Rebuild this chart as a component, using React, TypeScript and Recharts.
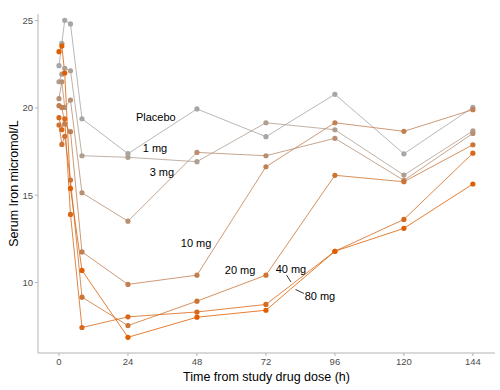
import React from 'react';
import { LineChart, Line, XAxis, YAxis, ReferenceDot, ReferenceLine } from 'recharts';

const times = [0, 1, 2, 4, 8, 24, 48, 72, 96, 120, 144];
const placebo = [22.42, 23.7, 25.02, 24.81, 19.38, 17.38, 19.94, 18.35, 20.78, 17.37, 20.03];
const mg1 = [21.5, 21.93, 22.27, 22.13, 17.26, 17.17, 16.92, 19.15, 18.75, 16.15, 18.68];
const mg3 = [20.53, 21.5, 20.03, 20.45, 15.14, 13.51, 17.45, 17.26, 18.26, 15.85, 18.54];
const mg10 = [20.13, 20.03, 19.08, 18.64, 11.75, 9.89, 10.42, 16.63, 19.15, 18.66, 19.9];
const mg20 = [19.02, 17.91, 18.37, 15.87, 9.16, 7.53, 8.93, 10.42, 16.14, 15.77, 17.89];
const mg40 = [19.44, 18.75, 19.38, 13.9, 7.42, 8.03, 8.31, 8.74, 11.79, 13.61, 17.41];
const mg80 = [23.22, 23.55, 22.0, 15.39, 10.69, 6.86, 8.01, 8.41, 11.79, 13.1, 15.64];

const seriesNames = ['Placebo', '1 mg', '3 mg', '10 mg', '20 mg', '40 mg', '80 mg'];
const seriesValues = [placebo, mg1, mg3, mg10, mg20, mg40, mg80];
const seriesColors = ['#a6a6a6', '#ae9f91', '#b88f72', '#c27f52', '#cc7434', '#d8681a', '#e05e00'];

const xTicks = [0, 24, 48, 72, 96, 120, 144];
const yTicks = [10, 15, 20, 25];

// annotation labels (data coordinates)
const labelNames = ['Placebo', '1 mg', '3 mg', '10 mg', '20 mg', '40 mg', '80 mg'];
const labelX = [33.7, 33.4, 35.8, 47.7, 63.0, 80.7, 90.8];
const labelY = [19.48, 17.7, 16.32, 12.25, 10.7, 10.76, 9.2];
const leaders = [
  [{ x: 79.2, y: 10.42 }, { x: 80.7, y: 10.03 }],
  [{ x: 82.3, y: 9.6 }, { x: 85.2, y: 9.37 }],
];

const data = times.map((t, i) => {
  const row: Record<string, number> = { time: t };
  seriesNames.forEach((n, k) => {
    row[n] = seriesValues[k][i];
  });
  return row;
});

const FONT = '"Liberation Sans", Arial, Helvetica, sans-serif';

const YTitle = (props: any) => {
  const vb = props.viewBox || {};
  const cx = (vb.x || 0) + 14;
  const cy = (vb.y || 0) + (vb.height || 0) / 2;
  return (
    <text x={cx} y={cy} transform={`rotate(-90 ${cx} ${cy})`} textAnchor="middle" dominantBaseline="central"
      fontSize={12.5} fill="#000" fontFamily={FONT}>
      Serum Iron micromol/L
    </text>
  );
};

const XTitle = (props: any) => {
  const vb = props.viewBox || {};
  const cx = (vb.x || 0) + (vb.width || 0) / 2;
  const cy = (vb.y || 0) + 27.5;
  return (
    <text x={cx} y={cy} textAnchor="middle" fontSize={12.5} fill="#000" fontFamily={FONT}>
      Time from study drug dose (h)
    </text>
  );
};

export default function App() {
  return (
    <div style={{ position: 'absolute', left: 0, top: 0, width: 500, height: 390, background: '#fff' }}>
      <LineChart width={500} height={390} data={data} margin={{ top: 14, right: 5, bottom: 0, left: 0 }}
        style={{ fontFamily: FONT }}>
        <XAxis dataKey="time" type="number" domain={[-7.3, 151.7]} ticks={xTicks} allowDataOverflow
          height={37} stroke="#b3b3b3" tickSize={3} tickMargin={2}
          tick={{ fontSize: 9.5, fill: '#4d4d4d', fontFamily: FONT }} label={<XTitle />} />
        <YAxis type="number" domain={[5.96, 25.38]} ticks={yTicks} allowDataOverflow width={38}
          stroke="#b3b3b3" tickSize={3} tickMargin={2}
          tick={{ fontSize: 9.5, fill: '#4d4d4d', fontFamily: FONT }} label={<YTitle />} />
        {seriesNames.map((n, k) => (
          <Line key={n} dataKey={n} type="linear" stroke={seriesColors[k]} strokeOpacity={0.8} strokeWidth={1}
            dot={{ r: 2.6, fill: seriesColors[k], stroke: 'none', fillOpacity: 1 }} activeDot={false}
            isAnimationActive={false} />
        ))}
        {labelNames.map((n, i) => (
          <ReferenceDot key={n} x={labelX[i]} y={labelY[i]} r={0} stroke="none" fill="none"
            label={{ value: n, position: 'center', fontSize: 11, fill: '#000', fontFamily: FONT }} />
        ))}
        {leaders.map((seg, i) => (
          <ReferenceLine key={i} segment={seg} stroke="#000" strokeWidth={0.8} />
        ))}
      </LineChart>
    </div>
  );
}
